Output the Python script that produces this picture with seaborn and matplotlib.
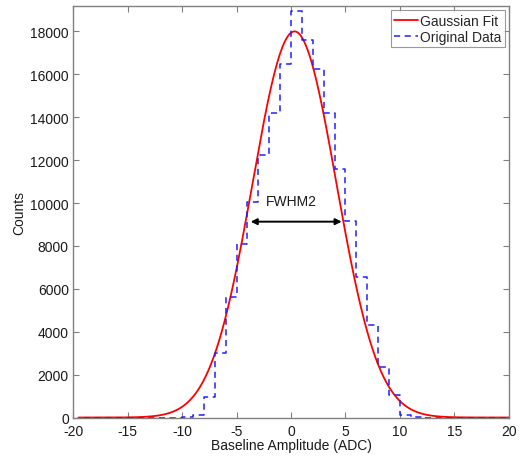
import numpy as np
import pandas as pd
import matplotlib
matplotlib.use("Agg")
import matplotlib.pyplot as plt
import seaborn as sns

# Histogram (stairs) data: bin left edges and counts
bin_left = list(range(-19, 20))
counts = [0, 0, 0, 0, 0, 0, 0, 0, 0,          # -19 .. -11
          30, 140, 960, 3010, 5640, 8080, 10030, 12230, 14200, 16480,  # -10 .. -1
          18960, 17600, 16230, 14200, 11580, 9160, 6560, 4330, 2360, 1070,  # 0 .. 9
          140, 20, 0, 0, 0, 0, 0, 0, 0, 0]       # 10 .. 19

# Gaussian fit parameters
fit_amp = 18000.0
fit_mu = 0.32
fit_sigma = 3.85
fit_range = (-19.5, 20.0)

# FWHM annotation
fwhm_left, fwhm_right, fwhm_level = -3.7, 4.65, 9130
fwhm_label = "FWHM2"

x_ticks = [-20, -15, -10, -5, 0, 5, 10, 15, 20]
y_ticks = list(range(0, 18001, 2000))

sns.set_theme(style="white")
plt.rcParams['font.family'] = ['Liberation Sans', 'DejaVu Sans']
plt.rcParams['axes.unicode_minus'] = False

fig = plt.figure(figsize=(5.23, 4.60), dpi=100)
ax = fig.add_axes([0.1396, 0.0902, 0.8336, 0.8944])

# data frames
hx = bin_left + [bin_left[-1] + 1]
hy = counts + [counts[-1]]
hist_df = pd.DataFrame({"x": hx, "y": hy})

fx = np.linspace(fit_range[0], fit_range[1], 800)
fy = fit_amp * np.exp(-0.5 * ((fx - fit_mu) / fit_sigma) ** 2)
fit_df = pd.DataFrame({"x": fx, "y": fy})

sns.lineplot(data=fit_df, x="x", y="y", ax=ax, color="#ff0000", linewidth=1.3,
             label="Gaussian Fit", zorder=2)
sns.lineplot(data=hist_df, x="x", y="y", ax=ax, color="#1f1fff", linewidth=1.1,
             drawstyle="steps-post", linestyle=(0, (4, 3)), label="Original Data", zorder=3)

ax.annotate("", xy=(fwhm_left, fwhm_level), xytext=(fwhm_right, fwhm_level),
            arrowprops=dict(arrowstyle="<|-|>", color="black", lw=1.4,
                            mutation_scale=9, shrinkA=0, shrinkB=0))
ax.text((fwhm_left + fwhm_right) / 2 - 0.4, 10100, fwhm_label, ha="center", va="center",
        fontsize=10, color="#1a1a1a")

ax.set_xlim(-20, 20)
ax.set_ylim(0, 19180)
ax.set_xticks(x_ticks)
ax.set_yticks(y_ticks)
ax.set_xlabel("Baseline Amplitude (ADC)", fontsize=10, color="#1a1a1a", labelpad=0)
ax.set_ylabel("Counts", fontsize=10, color="#1a1a1a", labelpad=3)

spine_col = "#808080"
for s in ax.spines.values():
    s.set_visible(True)
    s.set_color(spine_col)
    s.set_linewidth(1.0)
ax.tick_params(direction="in", length=4, width=0.8, color=spine_col,
               labelsize=10, labelcolor="#1a1a1a", top=True, right=True,
               bottom=True, left=True)
ax.tick_params(axis="x", pad=5)
ax.tick_params(axis="y", pad=3)
for lab in ax.get_yticklabels():
    lab.set_verticalalignment("center_baseline")

leg = ax.legend(loc="upper right", fontsize=10, frameon=True, fancybox=False,
                handlelength=1.7, handletextpad=0.15, borderpad=0.25,
                labelspacing=0.15, borderaxespad=0.3, edgecolor=spine_col)
leg.get_frame().set_linewidth(0.8)

fig.savefig("out.png", dpi=100)
